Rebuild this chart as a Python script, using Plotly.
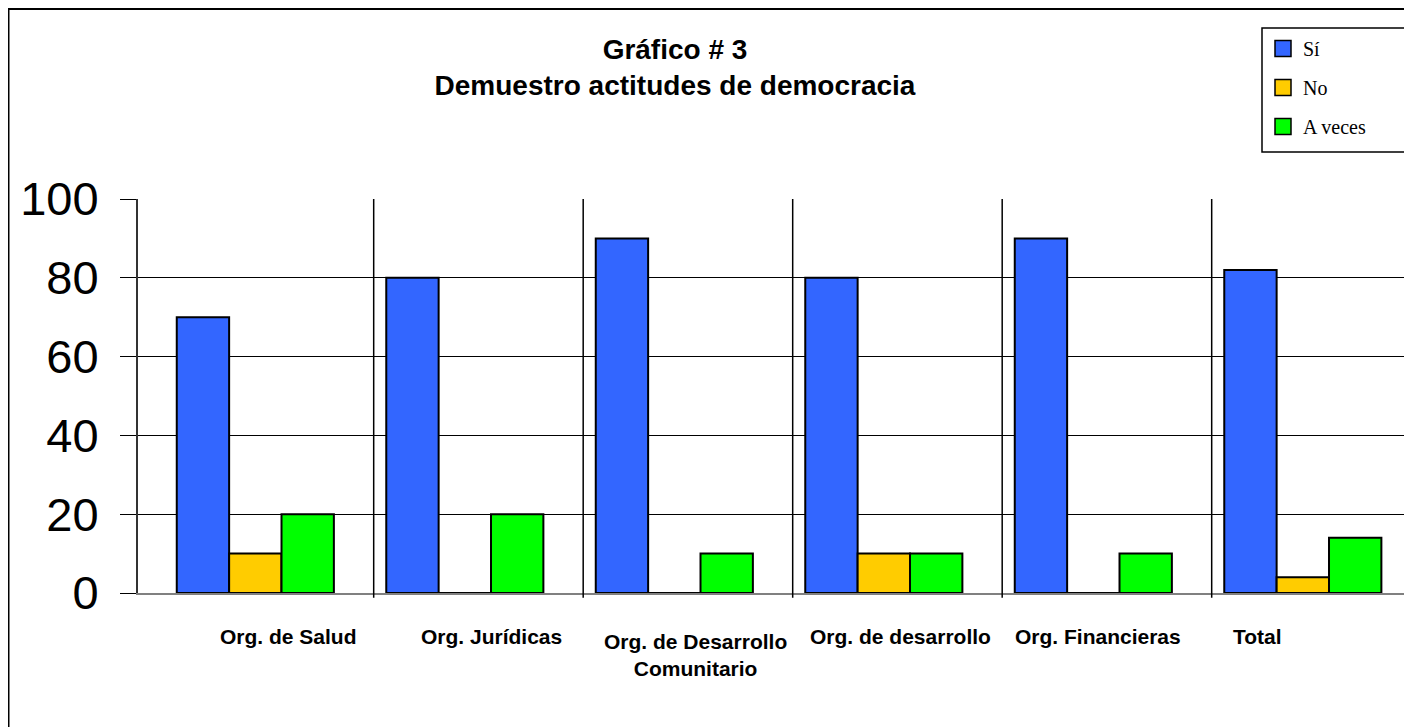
import plotly.graph_objects as go

categories = ["Org. de Salud", "Org. Jurídicas", "Org. de Desarrollo<br>Comunitario",
              "Org. de desarrollo", "Org. Financieras", "Total"]
si = [70, 80, 90, 80, 90, 82]
no = [10, 0, 0, 10, 0, 4]
a_veces = [20, 20, 10, 10, 10, 14]
series_names = ["Sí", "No", "A veces"]
colors = ["#3366FF", "#FFCC00", "#00FF00"]
title_lines = ["Gráfico # 3", "Demuestro actitudes de democracia"]

# label pixel offsets from category centre (layout only)
label_shift = [33, 27, 21, 17, 5, -45]
label_yshift = [0, 0, -5, 0, 0, 0]

W, H = 1412, 727
ML, MT, MB = 130, 191, 142
PW, PH = W - ML, H - MT - MB


def px_x(x):
    return (x - ML) / PW


def px_y(y):
    return (PH + MT - y) / PH


fig = go.Figure()
for i, (name, vals) in enumerate(zip(series_names, [si, no, a_veces])):
    fig.add_trace(go.Bar(
        x=list(range(len(categories))), y=vals, name=name,
        marker=dict(color=colors[i], line=dict(color="black", width=2)),
        showlegend=False, legendgroup=f"g{i}",
    ))
# legend entries with square swatches
for i, name in enumerate(series_names):
    fig.add_trace(go.Scatter(
        x=[None], y=[None], mode="markers", name=name, legendgroup=f"g{i}",
        marker=dict(symbol="square", size=16, color=colors[i],
                    line=dict(color="black", width=1.5)),
    ))

shapes = []
for i in range(len(categories) - 1):
    shapes.append(dict(type="line", xref="x", yref="paper",
                       x0=i + 0.565, x1=i + 0.565, y0=-0.012, y1=1,
                       line=dict(color="black", width=1.5)))
# outer frame
shapes.append(dict(type="rect", xref="paper", yref="paper",
                   x0=px_x(0.5), x1=1.2, y0=-0.6, y1=px_y(1),
                   line=dict(color="black", width=2), layer="below"))
# legend box
shapes.append(dict(type="rect", xref="paper", yref="paper",
                   x0=px_x(1254), x1=px_x(1397), y0=px_y(144), y1=px_y(20),
                   line=dict(color="black", width=1.5), fillcolor="white", layer="below"))

annotations = []
for i, lab in enumerate(categories):
    annotations.append(dict(
        x=i, y=-0.075, xref="x", yref="paper", text=f"<b>{lab}</b>",
        showarrow=False, xshift=label_shift[i], yshift=label_yshift[i],
        yanchor="top", xanchor="center",
        font=dict(family="Liberation Sans, Arial", size=21, color="black"),
    ))

fig.update_layout(
    width=W, height=H,
    margin=dict(l=ML, r=0, t=MT, b=MB),
    paper_bgcolor="white", plot_bgcolor="white",
    barmode="group", bargap=0.25, bargroupgap=0,
    title=dict(text="<b>" + "<br>".join(title_lines) + "</b>",
               x=667 / W, xanchor="center", y=1 - 51 / H, yanchor="middle",
               font=dict(family="Liberation Sans, Arial", size=28, color="black")),
    showlegend=True,
    legend=dict(x=px_x(1255), y=px_y(21), xanchor="left", yanchor="top",
                borderwidth=0, bgcolor="rgba(0,0,0,0)",
                font=dict(family="Liberation Serif, Times New Roman", size=20, color="black"),
                tracegroupgap=10, itemsizing="trace", itemwidth=30),
    xaxis=dict(type="linear", range=[-0.56, -0.56 + PW / 209.5], showticklabels=False,
               showgrid=False, zeroline=False, showline=True, linecolor="#808080",
               linewidth=2, ticks=""),
    yaxis=dict(range=[0, 100], tickvals=[0, 20, 40, 60, 80, 100],
               showgrid=True, gridcolor="black", gridwidth=1,
               zeroline=False, showline=True, linecolor="#333333", linewidth=2,
               ticks="outside", ticklen=16, tickcolor="black", tickwidth=1,
               ticklabelstandoff=12,
               tickfont=dict(family="Liberation Sans, Arial", size=47, color="black")),
    shapes=shapes, annotations=annotations,
)

fig.write_html("out.html")
